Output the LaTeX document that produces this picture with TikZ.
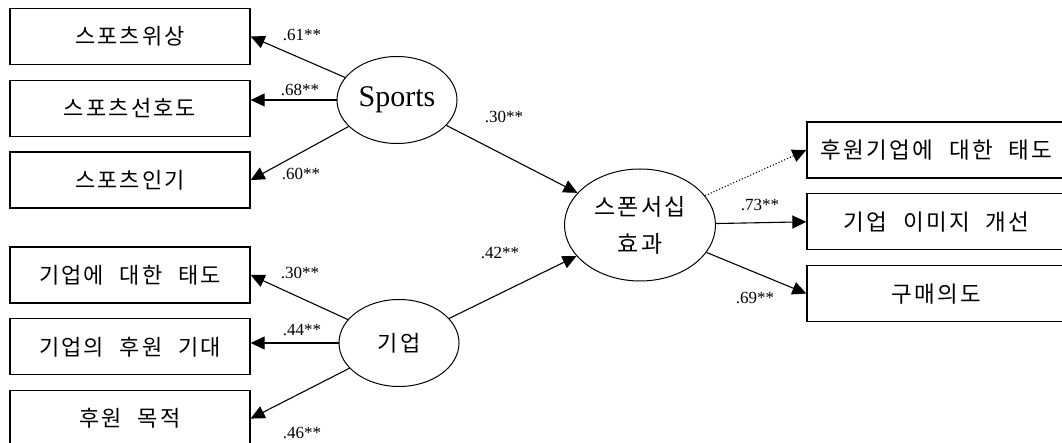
\documentclass[tikz,border=0pt]{standalone}
\usepackage{fontspec}
\setmainfont{Liberation Serif}
\newfontfamily\kor[WordSpace=2.2, LetterSpace=10]{Noto Sans CJK KR}
\usetikzlibrary{shapes,arrows.meta,positioning}

\begin{document}
\begin{tikzpicture}[
    x=1pt, y=-1pt,
    node distance=14.5pt,
    item/.style={rectangle, draw, line width=1.3pt, minimum width=240pt, minimum height=56pt, inner sep=0pt, font=\kor\fontsize{22}{26}\selectfont},
    wide/.style={item, minimum width=259pt, font=\kor\fontsize{22.5}{27}\selectfont},
    factor/.style={ellipse, draw, line width=1pt, inner sep=0pt, minimum width=120pt, minimum height=87pt},
    coef/.style={font=\fontsize{17}{19}\selectfont},
    link/.style={-{Triangle[length=14pt,width=13pt]}, line width=1.1pt}
]
\useasboundingbox (0,0) rectangle (1062,443);
\clip (0,0) rectangle (1062,443);

% indicators, left
\node[item] (s1) at (130,36.5) {스포츠위상};
\node[item, below=of s1] (s2) {스포츠선호도};
\node[item, below=of s2] (s3) {스포츠인기};
\node[item] (c1) at (130,275) {기업에 대한 태도};
\node[item, below=of c1] (c2) {기업의 후원 기대};
\node[item, below=of c2] (c3) {후원 목적};

% latent factors
\node[factor, font=\fontsize{30}{34}\selectfont] (sports) at (397,100) {Sports};
\node[factor, font=\kor\fontsize{22}{26}\selectfont] (corp) at (399,343) {기업};
\node[factor, minimum width=151pt, minimum height=112pt, align=center, font=\kor\fontsize{23}{37}\selectfont] (effect) at (640,225) {스폰서십\\효과};

% outcomes, right
\node[wide] (e1) at (936.5,150) {후원기업에 대한 태도};
\node[wide, below=of e1] (e2) {기업 이미지 개선};
\node[wide, below=of e2] (e3) {구매의도};

\draw[link] (sports) -- (s1.east);
\draw[link] (sports.west) -- (sports.west -| s2.east);
\draw[link] (sports) -- (s3.east);
\draw[link] (corp) -- (c1.east);
\draw[link] (corp.west) -- (corp.west -| c2.east);
\draw[link] (corp) -- (c3.east);
\draw[link] (sports) -- (effect);
\draw[link] (corp) -- (effect);
\draw[link, dotted] (effect) -- (e1.west);
\draw[link] (effect) -- (e2.west);
\draw[link] (effect) -- (e3.west);

% coefficients
\node[coef] (k61) at (302,35) {.61**};
\node[coef] (k68) at (300,90) {.68**};
\node[coef] (k60) at (301,174) {.60**};
\node[coef] (k30a) at (300,273) {.30**};
\node[coef] (k44) at (302,330) {.44**};
\node[coef] (k46) at (302,433) {.46**};
\node[coef] (k30b) at (504,117) {.30**};
\node[coef] (k42) at (500,253) {.42**};
\node[coef] (k73) at (760,205) {.73**};
\node[coef] (k69) at (755,298) {.69**};

\end{tikzpicture}
\end{document}
